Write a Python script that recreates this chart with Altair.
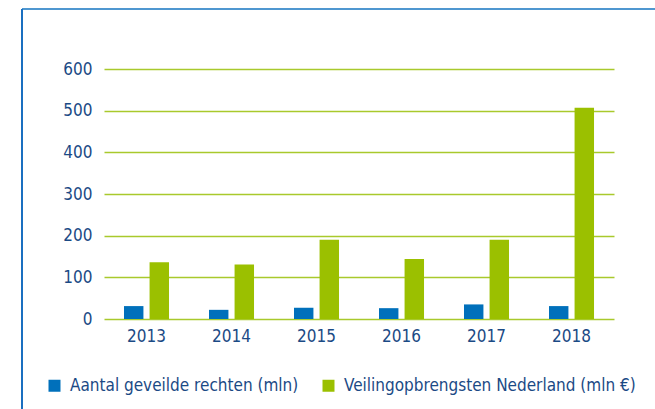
import altair as alt
import pandas as pd

years = ["2013", "2014", "2015", "2016", "2017", "2018"]
series = ["Aantal geveilde rechten (mln)", "Veilingopbrengsten Nederland (mln €)"]
rechten = [31, 22, 27, 26, 35, 31]
opbrengsten = [136, 131, 190, 144, 190, 507]
y_ticks = [0, 100, 200, 300, 400, 500, 600]

rows = []
for i, y in enumerate(years):
    rows.append({"jaar": y, "reeks": series[0], "waarde": rechten[i]})
    rows.append({"jaar": y, "reeks": series[1], "waarde": opbrengsten[i]})
df = pd.DataFrame(rows)

FONT = "DejaVu Sans Condensed"
NAVY = "#1b4a85"
GRID = "#a9c92c"
FS = 17

bars = alt.Chart(df).mark_bar().encode(
    x=alt.X("jaar:N", sort=years,
            scale=alt.Scale(paddingInner=0.47, paddingOuter=0.235),
            axis=alt.Axis(title=None, domain=False, ticks=False, labelAngle=0,
                          labelPadding=9, labelFontSize=FS, labelColor=NAVY,
                          labelFont=FONT)),
    xOffset=alt.XOffset("reeks:N", sort=series,
                        scale=alt.Scale(paddingInner=0.24, paddingOuter=0)),
    y=alt.Y("waarde:Q", scale=alt.Scale(domain=[0, 600]),
            axis=alt.Axis(title=None, values=y_ticks, domain=False, ticks=False,
                          labelPadding=12, labelFontSize=FS, labelColor=NAVY,
                          labelFont=FONT, grid=True, gridColor=GRID, gridWidth=1.5)),
    color=alt.Color("reeks:N", sort=series,
                    scale=alt.Scale(domain=series, range=["#0070bb", "#9bc000"]),
                    legend=alt.Legend(title=None, orient="none", legendX=-58, legendY=308,
                                      direction="horizontal", symbolType="square",
                                      symbolSize=144, symbolStrokeWidth=0,
                                      labelFontSize=FS, labelColor=NAVY, labelFont=FONT,
                                      columnPadding=21, labelOffset=7, labelLimit=400)),
)

frame_data = alt.Data(values=[{"k": 1}])
top_line = alt.Chart(frame_data).mark_rule(color="#4f97d0", strokeWidth=2).encode(
    x=alt.value(-82), x2=alt.value(551), y=alt.value(-60)
)
left_line = alt.Chart(frame_data).mark_rule(color="#1a6fc0", strokeWidth=2).encode(
    x=alt.value(-82), y=alt.value(-60), y2=alt.value(340)
)

chart = alt.layer(bars, top_line, left_line).properties(
    width=510, height=250,
    autosize=alt.AutoSizeParams(type="none"),
    padding={"left": 104, "top": 69, "right": 41, "bottom": 90},
    background="#ffffff",
).configure_view(stroke=None)

chart.save("out.html", embed_options={"renderer": "svg", "actions": False})
